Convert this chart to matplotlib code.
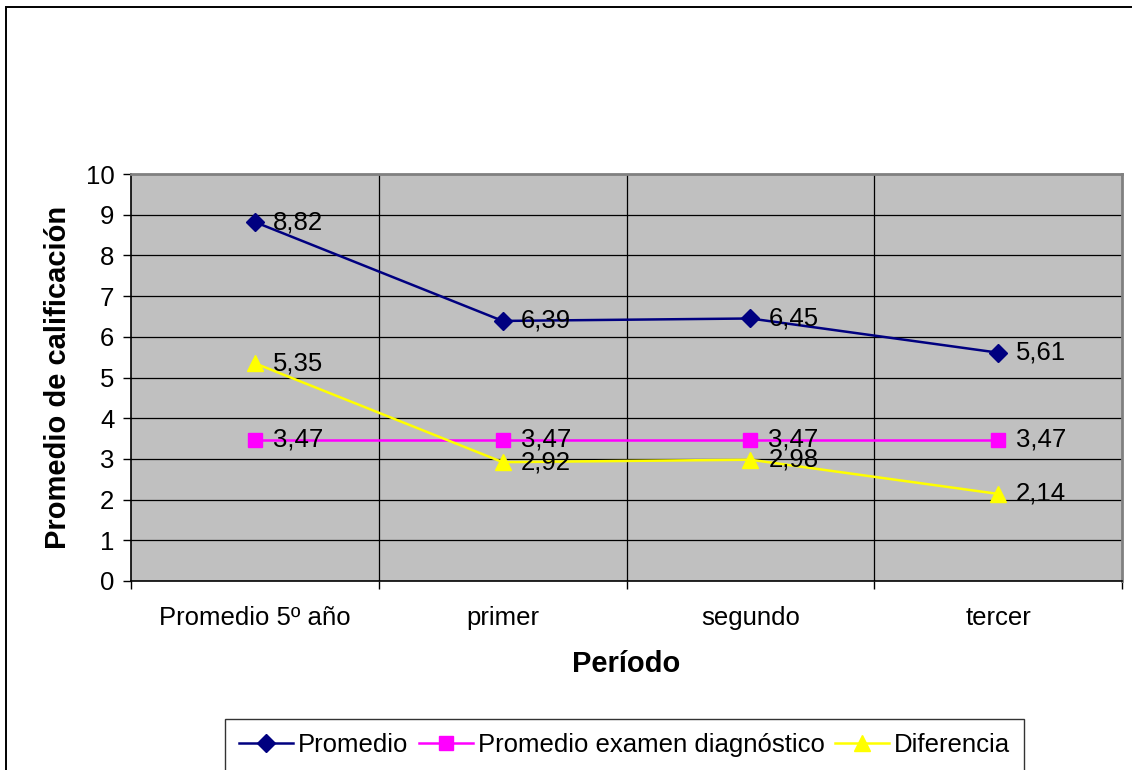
import matplotlib
matplotlib.use("Agg")
import matplotlib.pyplot as plt
from matplotlib.lines import Line2D
from matplotlib.patches import Rectangle

plt.rcParams['font.family'] = ['Liberation Sans', 'DejaVu Sans']

categorias = ["Promedio 5º año", "primer", "segundo", "tercer"]
promedio = [8.82, 6.39, 6.45, 5.61]
promedio_diagnostico = [3.47, 3.47, 3.47, 3.47]
diferencia = [5.35, 2.92, 2.98, 2.14]

series = [
    ("Promedio", promedio, "#000080", "D", 9),
    ("Promedio examen diagnóstico", promedio_diagnostico, "#FF00FF", "s", 10),
    ("Diferencia", diferencia, "#FFFF00", "^", 11),
]

TXT = 18.5
W, H = 1132, 770
fig = plt.figure(figsize=(W / 100, H / 100), dpi=100)
fig.patch.set_facecolor("white")

# outer chart frame (runs past the right and bottom edges)
fig.patches.append(Rectangle((6 / W, -0.1), 1.2, (1 - 7 / H) + 0.1,
                             transform=fig.transFigure, fill=False,
                             edgecolor="black", linewidth=1.4, zorder=0))

ax = fig.add_axes([131 / W, 1 - 581 / H, (1122 - 131) / W, (581 - 174) / H])
ax.set_facecolor("#C0C0C0")
ax.set_xlim(0, len(categorias))
ax.set_ylim(0, 10)

# gridlines: horizontal at each unit, vertical at category boundaries
for y in range(1, 10):
    ax.axhline(y, color="black", linewidth=0.9, zorder=1)
for x in range(1, len(categorias)):
    ax.axvline(x, color="black", linewidth=0.9, zorder=1)

xs = [i + 0.5 for i in range(len(categorias))]
for nombre, vals, color, marker, ms in series:
    ax.plot(xs, vals, color=color, linewidth=1.8, marker=marker,
            markersize=ms, markerfacecolor=color, markeredgecolor=color,
            zorder=3, label=nombre)
    for x, v in zip(xs, vals):
        ax.annotate(f"{v:.2f}".replace(".", ","), (x, v),
                    xytext=(13, 0), textcoords="offset points",
                    ha="left", va="center", fontsize=TXT, color="black",
                    zorder=4)

ax.set_yticks(range(0, 11))
ax.set_xticks(range(0, len(categorias) + 1))
ax.set_xticklabels([])
ax.set_xticks(xs, minor=True)
ax.set_xticklabels(categorias, minor=True)
ax.tick_params(axis="x", which="minor", length=0, labelsize=TXT, pad=18)
ax.tick_params(axis="x", which="major", length=6, direction="out", width=1)
ax.tick_params(axis="y", length=6, direction="out", width=1, labelsize=TXT, pad=6)

for side in ["top", "right"]:
    ax.spines[side].set_color("#808080")
    ax.spines[side].set_linewidth(2)
for side in ["left", "bottom"]:
    ax.spines[side].set_color("black")
    ax.spines[side].set_linewidth(1.2)

ax.set_ylabel("Promedio de calificación", fontsize=21, fontweight="bold",
              va="center")
ax.yaxis.set_label_coords((58 - 131) / 991, 0.5)
ax.set_xlabel("Período", fontsize=21, fontweight="bold", va="center")
ax.xaxis.set_label_coords(0.5, (581 - 664) / (581 - 174))

handles = [Line2D([], [], color=c, marker=m, markersize=ms,
                  markerfacecolor=c, markeredgecolor=c, linewidth=1.8)
           for _, _, c, m, ms in series]
labels = [s[0] for s in series]
leg = fig.legend(handles, labels, loc="upper left",
                 bbox_to_anchor=(225 / W, 1 - 719 / H),
                 ncol=3, fontsize=TXT, frameon=True, fancybox=False,
                 edgecolor="black", handlelength=2.1, handletextpad=0.2,
                 columnspacing=0.4, borderpad=0.55, borderaxespad=0)
leg.get_frame().set_linewidth(1.0)

fig.savefig("out.png", dpi=100)
